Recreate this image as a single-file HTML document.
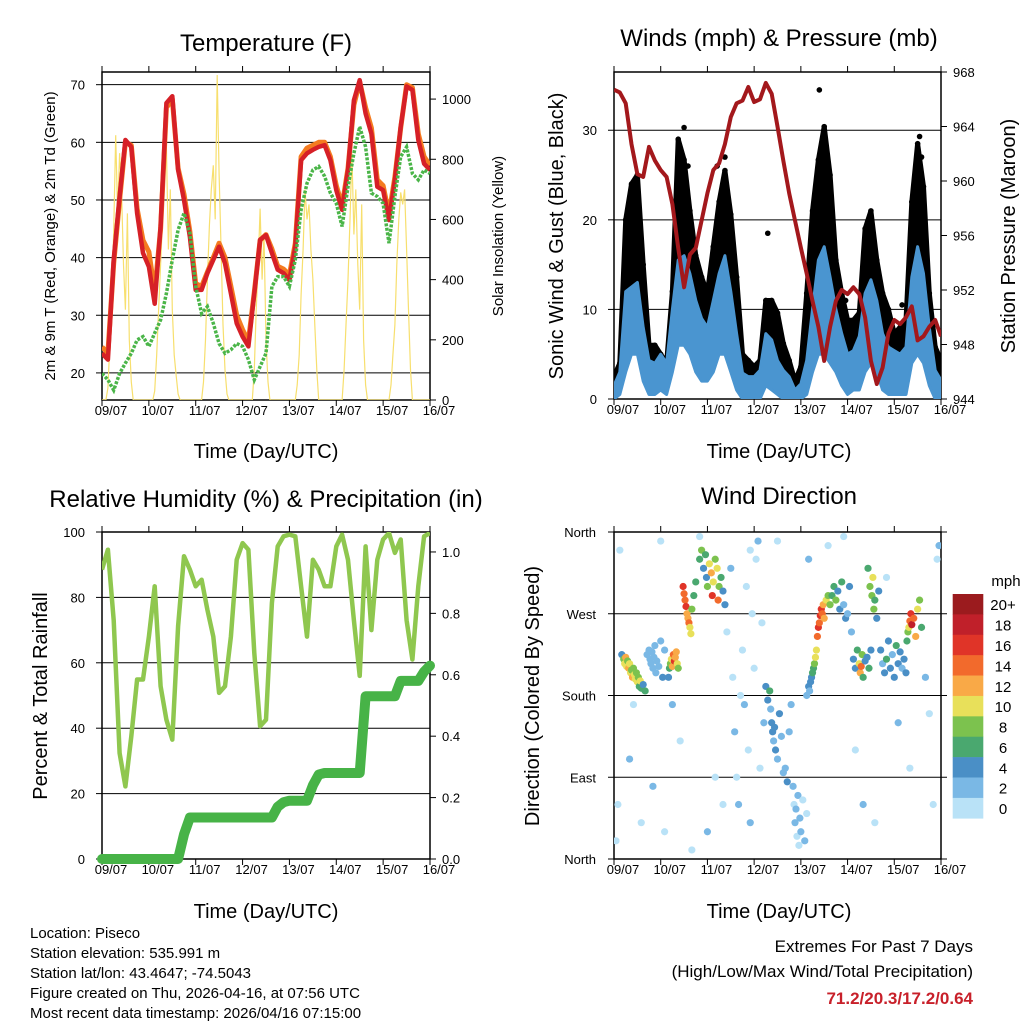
<!DOCTYPE html>
<html><head><meta charset="utf-8"><style>
html,body{margin:0;padding:0;background:#fff;}
svg{display:block;font-family:"Liberation Sans",Arial,sans-serif;}
</style></head><body>
<svg id="c" width="1024" height="1024" viewBox="0 0 1024 1024">
<g id="static">
<text x="266" y="51" font-size="24" text-anchor="middle">Temperature (F)</text>
<text x="779" y="46" font-size="24" text-anchor="middle">Winds (mph) &amp; Pressure (mb)</text>
<text x="266" y="507" font-size="24" text-anchor="middle">Relative Humidity (%) &amp; Precipitation (in)</text>
<text x="779" y="504" font-size="24" text-anchor="middle">Wind Direction</text>
<text x="266" y="458" font-size="20" text-anchor="middle">Time (Day/UTC)</text>
<text x="779" y="458" font-size="20" text-anchor="middle">Time (Day/UTC)</text>
<text x="266" y="918" font-size="20" text-anchor="middle">Time (Day/UTC)</text>
<text x="779" y="918" font-size="20" text-anchor="middle">Time (Day/UTC)</text>
<text transform="translate(55,236) rotate(-90)" font-size="15" text-anchor="middle">2m &amp; 9m T (Red, Orange) &amp; 2m Td (Green)</text>
<text transform="translate(503,236) rotate(-90)" font-size="15" text-anchor="middle">Solar Insolation (Yellow)</text>
<text transform="translate(563,236) rotate(-90)" font-size="20" text-anchor="middle">Sonic Wind &amp; Gust (Blue, Black)</text>
<text transform="translate(1015,236) rotate(-90)" font-size="20" text-anchor="middle">Station Pressure (Maroon)</text>
<text transform="translate(47,696) rotate(-90)" font-size="20" text-anchor="middle">Percent &amp; Total Rainfall</text>
<text transform="translate(539,696) rotate(-90)" font-size="20" text-anchor="middle">Direction (Colored By Speed)</text>
<g font-size="15">
<text x="30" y="938">Location: Piseco</text>
<text x="30" y="958">Station elevation: 535.991 m</text>
<text x="30" y="978">Station lat/lon: 43.4647; -74.5043</text>
<text x="30" y="998">Figure created on Thu, 2026-04-16, at 07:56 UTC</text>
<text x="30" y="1018">Most recent data timestamp: 2026/04/16 07:15:00</text>
</g>
<text x="973" y="952" font-size="17" text-anchor="end">Extremes For Past 7 Days</text>
<text x="973" y="977" font-size="17" text-anchor="end">(High/Low/Max Wind/Total Precipitation)</text>
<text x="973" y="1004" font-size="17" font-weight="bold" fill="#c8202a" text-anchor="end">71.2/20.3/17.2/0.64</text>
</g>
</svg>
<script>
// ---------- data ----------
const dayLabels=["09/07","10/07","11/07","12/07","13/07","14/07","15/07","16/07"];
const tempTicks=[20,30,40,50,60,70];
const solarTicks=[0,200,400,600,800,1000];
const windTicks=[0,10,20,30];
const presTicks=[944,948,952,956,960,964,968];
const rhTicks=[0,20,40,60,80,100];
const precTicks=[0.0,0.2,0.4,0.6,0.8,1.0];
const dirTicks=["North","East","South","West","North"];
const speedBins=["0","2","4","6","8","10","12","14","16","18","20+"];
const speedColors=["#b9e2f7","#7ab8e5","#4a8fc6","#4aa86f","#7cc24e","#e8e05a","#f9a947","#f26a2c","#e03428","#c0202a","#9b1b1e"];
// 3-hourly series (hours 0..168)
const temp2m=[23.4,22.3,39.6,50.6,60.4,59.2,47.7,40.8,38.4,32,45.4,66.8,68,55.2,50,43.6,34.4,34.4,37.3,39.6,41.9,39,33.8,28.6,26.3,24.6,33.8,43.1,43.9,40.8,37.9,37.3,36.1,41.9,56.9,58.1,58.7,59.2,59.5,56.9,51.7,48.3,55.2,67.3,70.8,65,61.5,52.3,51.7,46.5,53.5,62.7,69.7,69.1,60.4,56.3,55.2];
const temp9m=[24.5,23.5,39,50,60,59.5,48.5,43,41,34,45,66,67.5,55.5,51,44.5,35.5,35,37.5,40,42.5,40,35,30,27.5,25.5,34,43,44,41.5,38.5,38,37,42.5,57.5,59,59.5,60,60,57.5,52.5,49,55.5,66.5,70.5,66,62.5,53.5,52.5,47.5,54,62.5,70,69.5,61.5,57.5,56];
const dewpt=[19.9,18.8,17,19.9,21.7,23.4,25.7,26.3,24.6,26.9,29.2,33.8,39.6,44.8,47.7,44.2,35,30.3,31.5,28.6,25.1,23.4,24,25.1,24.6,22.3,18.8,21.1,23.4,35,36.7,36.7,35,39.6,48.3,52.9,55.2,55.8,54.1,51.2,49.4,45.4,52.3,58.1,62.7,59.2,51.2,50.6,49.4,42.5,50.6,57.5,59.2,54.6,53.5,55.2,54.6];
// hourly solar (hours 0..168)
const solar=[0,0,0,40,180,350,560,880,620,820,700,450,300,620,200,60,0,0,0,0,0,0,0,0,
0,0,0,30,150,300,450,600,760,840,500,700,300,150,80,20,0,0,0,0,0,0,0,0,
0,0,0,0,60,200,400,580,700,780,600,1080,750,500,250,100,20,0,0,0,0,0,0,0,
0,0,0,0,0,0,100,300,450,636,400,550,200,60,0,0,0,0,0,0,0,0,0,0,
0,0,0,0,50,150,350,500,700,600,650,500,400,250,100,0,0,0,0,0,0,0,0,0,
0,0,0,0,100,250,400,600,820,550,700,450,300,650,200,50,0,0,0,0,0,0,0,0,
0,0,0,0,50,150,250,450,600,690,650,700,500,300,100,0,0,0,0,0,0,0,0,0,0];
const windHi=[1.5,3,12,12.5,13,8,4.3,4,5,4,10,15.5,16,14,11,9,8,11,14,16,12,7.3,2.9,2.5,2.5,3.2,7.3,6.6,4.3,3.2,2.5,1,1.7,4.3,10,15.5,17,13.6,10,7.3,5,5.4,7,11.8,13.3,11,7.3,5.8,5.4,5,5.8,13.6,17,14,8,3.2,2.1];
const windLo=[0,0.5,3,5,5,2,0.5,0.5,1,0.5,3,6,6,5,3,2,2,3,5,5,3,1,0,0,0,0,1.5,1,0.5,0,0,0,0,0.5,3,5,5,4,3,1.5,0.5,1,1,3,4,3,1,0.5,0.5,0.5,0.5,4,5,4,1.5,0,0];
const gustHi=[2.5,4,20,24,25,15,6,6,5,4,12,29,26.7,21,16,13.6,11.8,17,22,25.5,20.6,13.6,5,4.3,3.6,4.3,11,11,9.6,6.2,4.3,2,3.6,11.8,21,26.7,30.4,25,15.5,11.8,8.8,8.8,9.6,19,21,15.5,11.8,10,7.3,8,8.8,22,28.5,23.7,11.8,5.8,4.3];
const gustExtraHour=[36,38,53,57,79,105.5,106,107,130,133,157,158,119,148];
const gustExtraVal=[30.3,26,26,27,18.5,34.5,27,26,17.5,16.5,29.3,27,11,10.5];
const pressure=[966.7,966.5,965.7,962.7,960.5,960.3,962.5,961.5,960.8,960.3,958.3,955.1,952.2,954.6,955.1,957.1,959.1,960.8,961.3,962.7,964.7,965.7,965.9,966.9,965.8,966,967.2,966.4,964,961.5,959.1,957.1,955.1,953.2,951.2,949.3,946.8,949.3,951.2,952,951.7,952.2,951.7,950,946.8,945.1,946.3,948.8,949.8,949.5,950,950.8,948.3,948.6,949.3,949.8,948.6];
const rh=[88.5,94.6,73,32.4,22.2,37.5,54.9,54.9,68,83.4,52.8,42.6,36.5,71.2,92.6,88.5,83.4,85.4,76.2,68,50.8,52.8,68,91.5,96.6,94.6,63,40.6,42.6,78.3,95.6,98.7,99.2,98.7,83.4,68,91.5,88.5,83.4,83.4,95.6,99.2,91.5,73,56,95.6,70,91.5,97.7,99.7,93.6,97.7,73,61,83.4,98.7,99.7];
const precip=[0,0,0,0,0,0,0,0,0,0,0,0,0,0,0.08,0.135,0.135,0.135,0.135,0.135,0.135,0.135,0.135,0.135,0.135,0.135,0.135,0.135,0.135,0.135,0.17,0.185,0.19,0.19,0.19,0.19,0.24,0.275,0.28,0.28,0.28,0.28,0.28,0.28,0.28,0.53,0.53,0.53,0.53,0.53,0.53,0.58,0.58,0.58,0.58,0.61,0.63];
// wind direction scatter
const wdHour=[4,5,5.5,6,6.5,7,7.5,8,8.5,9,9.5,10,10.5,11,11.5,12,12.5,13,13.5,14,15,16,
17,18,18.5,19,19.5,20,20.5,21,21.5,22,23,24,25,26,
28,28.5,29,29.5,30,30.5,31,31.5,32,32.5,33,
35.5,36,36.5,37,37.5,38,38.5,39,39.5,40,41,42,
44,45,46,47,47.5,48,49,50,50.5,51,52,53,53.5,54,55,56,57,
58,60,61,62,63,64,65,66,67,68,69,70,71,72,73,74,75,76,77,
78,79,80,80.5,81,81.5,82,82.5,83,84,85,86,87,88,89,90,91,
92,92.5,93,93.5,94,94.5,95,95.5,96,97,98,99,
99,100,100.5,101,101.5,102,102.5,103,103.5,104,
104.5,105,105.5,106,106.5,107,107.5,108,109,110,111,
112,113,114,115,116,117,118,119,120,121,122,
123,124,125,126,126.5,127,127.5,128,129,130,131,132,
130.5,131.5,132.5,133,133.5,134,135,136,
137,138,139,140,141,142,143,144,145,146,147,148,149,150,
150.5,151,151.5,152,152.5,153,154,155,156,157,158,
1,2,3,8,10,14,20,24,26,30,34,40,44,48,52,56,70,84,100,110,118,124,128,134,140,146,152,160,162,164,166,167];
const wdDir=[225,220,215,222,212,218,210,215,205,208,200,210,203,198,205,195,200,190,196,188,192,185,
225,230,220,215,228,210,222,235,205,218,212,240,200,230,
200,210,215,220,212,225,218,222,228,215,210,
300,292,285,278,270,265,260,255,248,275,290,305,
330,340,320,335,310,300,325,315,290,305,330,320,285,300,310,295,280,
250,320,200,140,90,60,180,230,170,300,120,40,270,210,330,350,100,260,150,
190,175,185,165,150,140,130,145,120,110,160,135,95,100,85,140,170,
80,60,40,55,25,70,15,45,30,65,20,50,
180,190,185,195,200,205,210,215,222,230,
245,255,260,268,275,270,280,265,285,290,280,
290,300,285,295,275,305,280,265,270,300,250,
220,210,230,215,205,212,225,200,218,222,210,230,
320,300,290,310,275,285,265,295,
230,215,205,220,240,210,225,200,235,215,228,210,220,205,
240,250,255,262,270,258,265,245,275,285,255,
20,60,340,110,170,40,80,350,30,170,130,10,355,30,90,60,340,350,330,345,355,120,60,40,310,150,100,200,160,60,330,345];
const wdSpd=[4,8,10,12,11,9,12,10,11,9,12,8,10,11,9,10,8,7,10,6,5,6,
3,2,3,2,3,2,3,2,3,3,2,3,4,2,
5,7,9,11,12,14,16,13,12,10,8,
16,15,14,16,13,12,14,11,10,8,7,6,
6,8,5,6,4,8,10,12,16,10,8,11,15,9,6,5,4,
1,2,1,2,1,2,1,0,2,1,1,2,1,0,1,2,1,1,2,
5,4,6,3,4,5,3,4,4,3,5,3,3,2,4,3,2,
2,1,2,3,1,2,1,3,2,1,2,0,
3,4,3,5,4,6,7,9,10,11,
14,16,15,17,16,14,13,12,10,9,8,
7,6,8,5,4,6,3,4,3,5,2,
4,5,6,10,12,14,8,6,5,4,6,5,
7,8,9,10,8,6,5,4,
4,3,5,6,4,5,3,4,6,5,4,3,5,4,
6,8,10,14,16,18,15,12,10,8,6,
1,0,1,2,1,0,2,1,1,2,1,0,1,2,1,1,0,1,2,1,0,1,2,1,1,2,1,2,1,0,1,2];

// ---------- helpers ----------
const NS="http://www.w3.org/2000/svg";
const svg=document.getElementById('c');
function mk(tag,attrs,parent){const e=document.createElementNS(NS,tag);for(const k in attrs)e.setAttribute(k,attrs[k]);(parent||svg).appendChild(e);return e;}
function lin(d0,d1,r0,r1){return v=>r0+(v-d0)/(d1-d0)*(r1-r0);}
function pathOf(xs,ys){return xs.map((x,i)=>(i?'L':'M')+x.toFixed(1)+' '+ys[i].toFixed(1)).join(' ');}
const P1={x0:102,x1:430,y0:72,y1:400}, P2={x0:614,x1:941,y0:72,y1:399}, P3={x0:102,x1:430,y0:532,y1:859}, P4={x0:614,x1:941,y0:532,y1:859};

function frame(P,name,clipId){
  const g=mk('g',{});
  
  
  mk('rect',{x:P.x0,y:P.y0,width:P.x1-P.x0,height:P.y1-P.y0,fill:'none',stroke:'#000','stroke-width':1.5},g);
  const X=lin(0,168,P.x0,P.x1);
  dayLabels.forEach((l,i)=>{
    const x=X(i*24);
    mk('line',{x1:x,x2:x,y1:P.y1,y2:P.y1+6,stroke:'#000'},g);
    mk('line',{x1:x,x2:x,y1:P.y0,y2:P.y0-6,stroke:'#000'},g);
    const t=mk('text',{x:x+9,y:P.y1+15,'font-size':13,'text-anchor':'middle'},g);
    t.textContent=l;
    
    
  });
  const cp=mk('clipPath',{id:clipId});
  mk('rect',{x:P.x0,y:P.y0,width:P.x1-P.x0,height:P.y1-P.y0},cp);
  return X;
}
function hgrid(P,Y,vals){vals.forEach(v=>{const y=Y(v);if(y>P.y0+1&&y<P.y1-1){const l=mk('line',{x1:P.x0,x2:P.x1,y1:y,y2:y,stroke:'#000','stroke-width':1});}});}
function yTicks(P,Y,vals,side,fmt,fs){vals.forEach(v=>{const y=Y(v);
  if(side==='l'){mk('line',{x1:P.x0-6,x2:P.x0,y1:y,y2:y,stroke:'#000'});const t=mk('text',{x:P.x0-17,y:y+5,'font-size':fs||13,'text-anchor':'end'});t.textContent=fmt(v);}
  else{mk('line',{x1:P.x1,x2:P.x1+6,y1:y,y2:y,stroke:'#000'});const t=mk('text',{x:P.x1+12,y:y+5,'font-size':fs||13,'text-anchor':'start'});t.textContent=fmt(v);}});}
const h3=temp2m.map((_,i)=>i*3);

// ---------- Panel 1 ----------
{
 const X=frame(P1,'temperature','clip1');
 const Y=lin(15.3,72.2,P1.y1,P1.y0), Ys=lin(0,1090,P1.y1,P1.y0);
 hgrid(P1,Y,tempTicks);
 yTicks(P1,Y,tempTicks,'l',v=>v);
 yTicks(P1,Ys,solarTicks,'r',v=>v);
 const g=mk('g',{'clip-path':'url(#clip1)'});
 
 
 const sp=mk('path',{d:pathOf(solar.map((_,i)=>X(i)),solar.map(v=>Ys(v))),fill:'none',stroke:'#f7df6e','stroke-width':1.2},g);
 
 
 const o=mk('path',{d:pathOf(h3.map(X),temp9m.map(Y)),fill:'none',stroke:'#f47b20','stroke-width':5,'stroke-linejoin':'round'},g);
 
 
 const r=mk('path',{d:pathOf(h3.map(X),temp2m.map(Y)),fill:'none',stroke:'#d62027','stroke-width':4.5,'stroke-linejoin':'round'},g);
 
 
 const gr=mk('path',{d:pathOf(h3.map(X),dewpt.map(Y)),fill:'none',stroke:'#4ab548','stroke-width':3.5,'stroke-dasharray':'3 1.5'},g);
 
 
}
// ---------- Panel 2 ----------
{
 const X=frame(P2,'winds','clip2');
 const Y=lin(0,36.5,P2.y1,P2.y0), Yp=lin(944,968,P2.y1,P2.y0);
 hgrid(P2,Y,windTicks);
 yTicks(P2,Y,windTicks,'l',v=>v);
 yTicks(P2,Yp,presTicks,'r',v=>v);
 const g=mk('g',{'clip-path':'url(#clip2)'});
 
 
 const xs=h3.map(X);
 const gb=mk('path',{d:pathOf(xs.concat(xs.slice().reverse()),gustHi.map(Y).concat(windHi.map(Y).reverse()))+'Z',fill:'#000',stroke:'#000','stroke-width':5,'stroke-linejoin':'round'},g);
 
 
 gustHi.forEach((v,i)=>{const c=mk('circle',{cx:X(h3[i]),cy:Y(v),r:2.8,fill:'#000'},g);});
 gustExtraHour.forEach((h,i)=>{const c=mk('circle',{cx:X(h),cy:Y(gustExtraVal[i]),r:2.8,fill:'#000'},g);});
 const wb=mk('path',{d:pathOf(xs.concat(xs.slice().reverse()),windHi.map(Y).concat(windLo.map(Y).reverse()))+'Z',fill:'#4a95d0',stroke:'#4a95d0','stroke-width':3,'stroke-linejoin':'round'},g);
 
 
 const pl=mk('path',{d:pathOf(xs,pressure.map(Yp)),fill:'none',stroke:'#a3181c','stroke-width':4,'stroke-linejoin':'round'},g);
 
 
}
// ---------- Panel 3 ----------
{
 const X=frame(P3,'humidity','clip3');
 const Y=lin(0,100,P3.y1,P3.y0), Yr=lin(0,1.065,P3.y1,P3.y0);
 hgrid(P3,Y,rhTicks);
 yTicks(P3,Y,rhTicks,'l',v=>v);
 yTicks(P3,Yr,precTicks,'r',v=>v.toFixed(1));
 const g=mk('g',{'clip-path':'url(#clip3)'});
 
 
 const rl=mk('path',{d:pathOf(h3.map(X),rh.map(Y)),fill:'none',stroke:'#8fc74f','stroke-width':4.5,'stroke-linejoin':'round'},g);
 
 
 const g2=mk('g',{});
 const pp=mk('path',{d:pathOf(h3.map(X),precip.map(Yr)),fill:'none',stroke:'#47b347','stroke-width':10,'stroke-linejoin':'round','stroke-linecap':'round'},g2);
 
 
}
// ---------- Panel 4 ----------
{
 const X=frame(P4,'wind-direction','clip4');
 const Y=lin(0,360,P4.y1,P4.y0);
 hgrid(P4,Y,[90,180,270]);
 dirTicks.forEach((l,i)=>{const y=Y(i*90);mk('line',{x1:P4.x0-6,x2:P4.x0,y1:y,y2:y,stroke:'#000'});mk('line',{x1:P4.x1,x2:P4.x1+6,y1:y,y2:y,stroke:'#000'});const t=mk('text',{x:P4.x0-18,y:y+5,'font-size':13,'text-anchor':'end'});t.textContent=l;});
 const g=mk('g',{'clip-path':'url(#clip4)'});
 
 
 wdHour.forEach((h,i)=>{const bin=Math.min(10,Math.floor(wdSpd[i]/2));const c=mk('circle',{cx:X(h),cy:Y(wdDir[i]),r:3.6,fill:speedColors[bin]},g);});
 // colorbar
 const cb=mk('g',{});
 
 
 const bh=(818.3-594)/speedBins.length;
 speedBins.forEach((l,i)=>{const k=speedBins.length-1-i;const y=594+i*bh;
   const r=mk('rect',{x:952.7,y:y,width:30.6,height:bh+0.3,fill:speedColors[k]},cb);
   
   
   const t=mk('text',{x:1003,y:y+bh/2+6,'font-size':15,'text-anchor':'middle'},cb);t.textContent=speedBins[k];
   
   });
 const mt=mk('text',{x:1006,y:586,'font-size':15,'text-anchor':'middle'},cb);mt.textContent='mph';
 
 
}
</script>
</body></html>
